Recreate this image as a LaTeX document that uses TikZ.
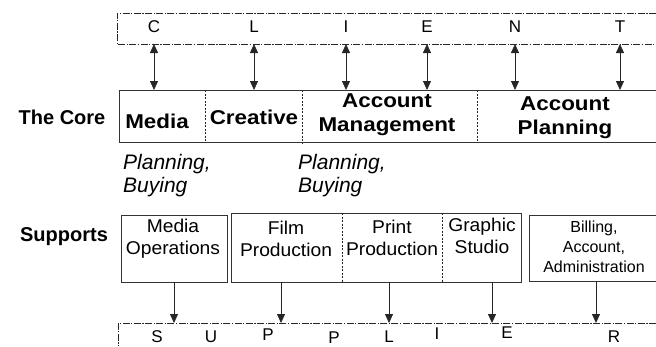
\documentclass[tikz,border=0pt]{standalone}
\usepackage{fontspec}
\setmainfont{Liberation Sans}
\newfontfamily\corefont[FakeStretch=1.12]{Liberation Sans}
\newfontfamily\supfont[FakeStretch=1.04]{Liberation Sans}
\usetikzlibrary{arrows.meta}
\begin{document}
\begin{tikzpicture}[x=1pt,y=-1pt,
  lbl/.style={font=\fontsize{20}{22}\selectfont\bfseries, inner sep=0},
  core/.style={font=\corefont\fontsize{20}{24}\selectfont\bfseries, align=center, inner sep=0},
  sup/.style={font=\supfont\fontsize{18.5}{22}\selectfont, align=center, inner sep=0},
  sups/.style={font=\fontsize{16}{20}\selectfont, align=center, inner sep=0},
  ital/.style={font=\fontsize{21}{23}\selectfont\itshape, anchor=base west, inner sep=0},
  letter/.style={font=\fontsize{17}{17}\selectfont, inner sep=0},
  dashdot/.style={draw=black!85, line width=1pt, dash pattern=on 7pt off 1.5pt on 1.2pt off 1.5pt},
  box/.style={draw=black!80, line width=1pt},
  dotdiv/.style={draw=black!85, line width=1pt, dash pattern=on 2pt off 1.5pt},
  arr/.style={draw=black!85, -{Triangle[length=9pt,width=8pt]}, line width=0.8pt},
  dbl/.style={draw=black!85, {Triangle[length=9pt,width=8pt]}-{Triangle[length=9pt,width=8pt]}, line width=0.8pt},
]
\useasboundingbox (0,0) rectangle (656,346);

% CLIENT strip
\draw[dashdot] (656,13) -- (117,13) -- (117,44) -- (656,44);
\node[letter] (C) at (154,27) {C};
\node[letter] (L) at (254,27) {L};
\node[letter] (I) at (346,27) {I};
\node[letter] (E) at (427,27) {E};
\node[letter] (N) at (515,27) {N};
\node[letter] (T) at (620,27) {T};
\coordinate (clb) at (0,44);
\coordinate (cot) at (0,90);
\foreach \n in {C,L,I,E,N,T}
  \draw[dbl] (\n |- clb) -- (\n |- cot);

% The Core
\node[lbl] (corelbl) at (62,117) {The Core};
\draw[box] (656,90) -- (119,90) -- (119,142) -- (656,142);
\draw[dotdiv, line width=0.8pt] (205,90) -- (205,142);
\draw[dotdiv] (302,90) -- (302,144);
\draw[dotdiv] (477,90) -- (477,142);
\node[core] (media) at (157,121) {Media};
\node[core] (creative) at (254,117) {Creative};
\node[core] (am) at (387,115) {Account\\Management};
\node[core] (ap) at (565,118) {Account\\Planning};

\node[ital] (pb1) at (123,169) {Planning,};
\node[ital] (pb2) at (123,192) {Buying};
\node[ital] (pb3) at (298,169) {Planning,};
\node[ital] (pb4) at (298,192) {Buying};

% Supports
\node[lbl] (suplbl) at (64,237) {Supports};
\draw[box] (121,215) rectangle (227,282);
\draw[box] (231,213) rectangle (521,282);
\draw[dotdiv] (342,213) -- (342,282);
\draw[dotdiv] (442,213) -- (442,282);
\draw[box] (656,215) -- (529,215) -- (529,281) -- (656,281);
\node[sup] (mo) at (173,239) {Media\\Operations};
\node[sup] (fp) at (286,239) {Film\\Production};
\node[sup] (pp) at (392,238) {Print\\Production};
\node[sup] (gs) at (482,236) {Graphic\\Studio};
\node[sups] (ba) at (594,247) {Billing,\\Account,\\Administration};

% SUPPLIER strip
\draw[dashdot] (656,323) -- (118,323) -- (118,346);
\node[letter] (S1) at (157,337) {S};
\node[letter] (U1) at (211,337) {U};
\node[letter] (P1) at (268,335) {P};
\node[letter] (P2) at (334,338) {P};
\node[letter] (L1) at (389,337) {L};
\node[letter] (I1) at (437,334) {I};
\node[letter] (E1) at (507,333) {E};
\node[letter] (R1) at (614,337) {R};

\coordinate (sb1) at (174,282);
\coordinate (sb2) at (281,282);
\coordinate (sb3) at (389,282);
\coordinate (sb4) at (492,282);
\coordinate (sb5) at (596,281);
\coordinate (splt) at (0,323);
\foreach \n in {sb1,sb2,sb3,sb4,sb5}
  \draw[arr] (\n) -- (\n |- splt);
\end{tikzpicture}
\end{document}
